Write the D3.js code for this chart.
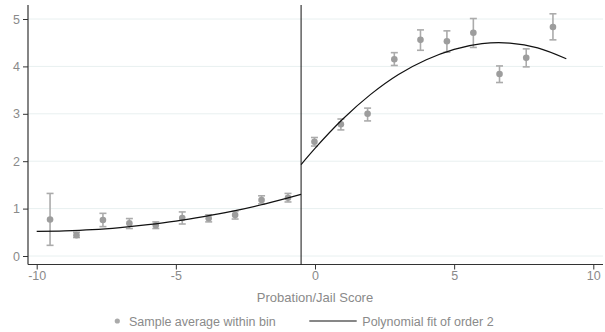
<!DOCTYPE html>
<html>
<head>
<meta charset="utf-8">
<script src="https://cdn.jsdelivr.net/npm/d3@7"></script>
<style>
  html, body { margin: 0; padding: 0; background: #fff; }
  svg { display: block; font-family: "Liberation Sans", Arial, sans-serif; }
</style>
</head>
<body>
<svg id="chart" width="605" height="332"></svg>
<script>
// Bin averages (x = bin centre, y = mean, lo/hi = CI)
const binX  = [-9.52, -8.57, -7.62, -6.67, -5.72, -4.77, -3.82, -2.87, -1.92, -0.97,
               -0.02, 0.93, 1.89, 2.85, 3.79, 4.74, 5.69, 6.63, 7.59, 8.55];
const binY  = [0.77, 0.44, 0.76, 0.69, 0.65, 0.80, 0.795, 0.865, 1.18, 1.23,
               2.41, 2.78, 3.00, 4.15, 4.56, 4.53, 4.71, 3.84, 4.18, 4.83];
const binLo = [0.225, 0.39, 0.62, 0.58, 0.58, 0.675, 0.72, 0.78, 1.10, 1.14,
               2.32, 2.66, 2.85, 4.02, 4.34, 4.30, 4.40, 3.66, 3.99, 4.56];
const binHi = [1.32, 0.50, 0.90, 0.79, 0.72, 0.93, 0.87, 0.94, 1.27, 1.32,
               2.50, 2.89, 3.12, 4.29, 4.77, 4.75, 5.01, 4.01, 4.37, 5.11];

// Polynomial fit curves
const fitLeftX  = [-10, -9, -8, -7, -6, -5, -4, -3, -2, -1, -0.5];
const fitLeftY  = [0.52, 0.53, 0.555, 0.60, 0.66, 0.735, 0.83, 0.94, 1.07, 1.22, 1.30];
const fitRightX = [-0.5, 0, 1, 2, 3, 4, 5, 6, 6.6, 7, 8, 9.03];
const fitRightY = [1.93, 2.27, 2.89, 3.41, 3.83, 4.14, 4.36, 4.48, 4.50, 4.49, 4.39, 4.16];

const xTicks = [-10, -5, 0, 5, 10];
const yTicks = [0, 1, 2, 3, 4, 5];
const cutoff = -0.5;

const xTitle = "Probation/Jail Score";
const legendLabels = ["Sample average within bin", "Polynomial fit of order 2"];

const svg = d3.select("#chart");
const mLeft = 28, mRight = 603, mTop = 5, mBottom = 264.5;

const x = d3.scaleLinear().domain([-10, 10]).range([36.7, 593.3]);
const y = d3.scaleLinear().domain([0, 5]).range([256, 19]);

// grid
svg.append("g").selectAll("line").data(yTicks).join("line")
  .attr("x1", mLeft).attr("x2", mRight)
  .attr("y1", d => y(d)).attr("y2", d => y(d))
  .attr("stroke", "#e8f0f0").attr("stroke-width", 1);

// y axis
const yAxis = svg.append("g").attr("transform", `translate(${mLeft},0)`)
  .call(d3.axisLeft(y).tickValues(yTicks).tickSize(5).tickPadding(3).tickFormat(d => String(d)));
yAxis.select(".domain").remove();
yAxis.selectAll(".tick line").attr("stroke", "#333");
yAxis.selectAll(".tick text").attr("fill", "#8a8a8a").style("font-size", "12.5px")
  .style("font-family", '"Liberation Sans", Arial, sans-serif');
svg.append("line").attr("x1", mLeft).attr("x2", mLeft).attr("y1", mTop).attr("y2", mBottom)
  .attr("stroke", "#333").attr("stroke-width", 1.2);

// x axis
const xAxis = svg.append("g").attr("transform", `translate(0,${mBottom})`)
  .call(d3.axisBottom(x).tickValues(xTicks).tickSize(5).tickPadding(2).tickFormat(d => String(d)));
xAxis.select(".domain").remove();
xAxis.selectAll(".tick line").attr("stroke", "#333");
xAxis.selectAll(".tick text").attr("fill", "#8a8a8a").style("font-size", "12.5px")
  .style("font-family", '"Liberation Sans", Arial, sans-serif');
svg.append("line").attr("x1", mLeft).attr("x2", mRight).attr("y1", mBottom).attr("y2", mBottom)
  .attr("stroke", "#333").attr("stroke-width", 1.2);

// cutoff line
svg.append("line").attr("x1", x(cutoff)).attr("x2", x(cutoff)).attr("y1", mTop).attr("y2", mBottom)
  .attr("stroke", "#111").attr("stroke-width", 1);

// error bars
const bins = binX.map((d, i) => ({x: d, y: binY[i], lo: binLo[i], hi: binHi[i]}));
const eb = svg.append("g").attr("stroke", "#ababab").attr("stroke-width", 1.6).attr("fill", "none");
eb.selectAll(".v").data(bins).join("line")
  .attr("x1", d => x(d.x)).attr("x2", d => x(d.x)).attr("y1", d => y(d.lo)).attr("y2", d => y(d.hi));
eb.selectAll(".t").data(bins).join("line")
  .attr("x1", d => x(d.x) - 3.5).attr("x2", d => x(d.x) + 3.5).attr("y1", d => y(d.hi)).attr("y2", d => y(d.hi));
eb.selectAll(".b").data(bins).join("line")
  .attr("x1", d => x(d.x) - 3.5).attr("x2", d => x(d.x) + 3.5).attr("y1", d => y(d.lo)).attr("y2", d => y(d.lo));

// points
svg.append("g").selectAll("circle").data(bins).join("circle")
  .attr("cx", d => x(d.x)).attr("cy", d => y(d.y)).attr("r", 3.3).attr("fill", "#9d9d9d");

// fit lines
const line = d3.line().x(d => x(d[0])).y(d => y(d[1])).curve(d3.curveMonotoneX);
[[fitLeftX, fitLeftY], [fitRightX, fitRightY]].forEach(([xs, ys]) => {
  svg.append("path").datum(xs.map((v, i) => [v, ys[i]]))
    .attr("d", line).attr("fill", "none").attr("stroke", "#111").attr("stroke-width", 1.2);
});

// x title
svg.append("text").attr("x", x(0)).attr("y", 302).attr("text-anchor", "middle")
  .attr("fill", "#8a8a8a").style("font-size", "13px").text(xTitle);

// legend
const ly = 321;
svg.append("circle").attr("cx", 117.3).attr("cy", ly).attr("r", 2.6).attr("fill", "#aaa");
svg.append("text").attr("x", 129).attr("y", ly + 4.5).attr("fill", "#8a8a8a")
  .style("font-size", "12.5px").text(legendLabels[0]);
svg.append("line").attr("x1", 309.3).attr("x2", 356.7).attr("y1", ly).attr("y2", ly)
  .attr("stroke", "#111").attr("stroke-width", 1.2);
svg.append("text").attr("x", 362.3).attr("y", ly + 4.5).attr("fill", "#8a8a8a")
  .style("font-size", "12.5px").text(legendLabels[1]);
</script>
</body>
</html>
